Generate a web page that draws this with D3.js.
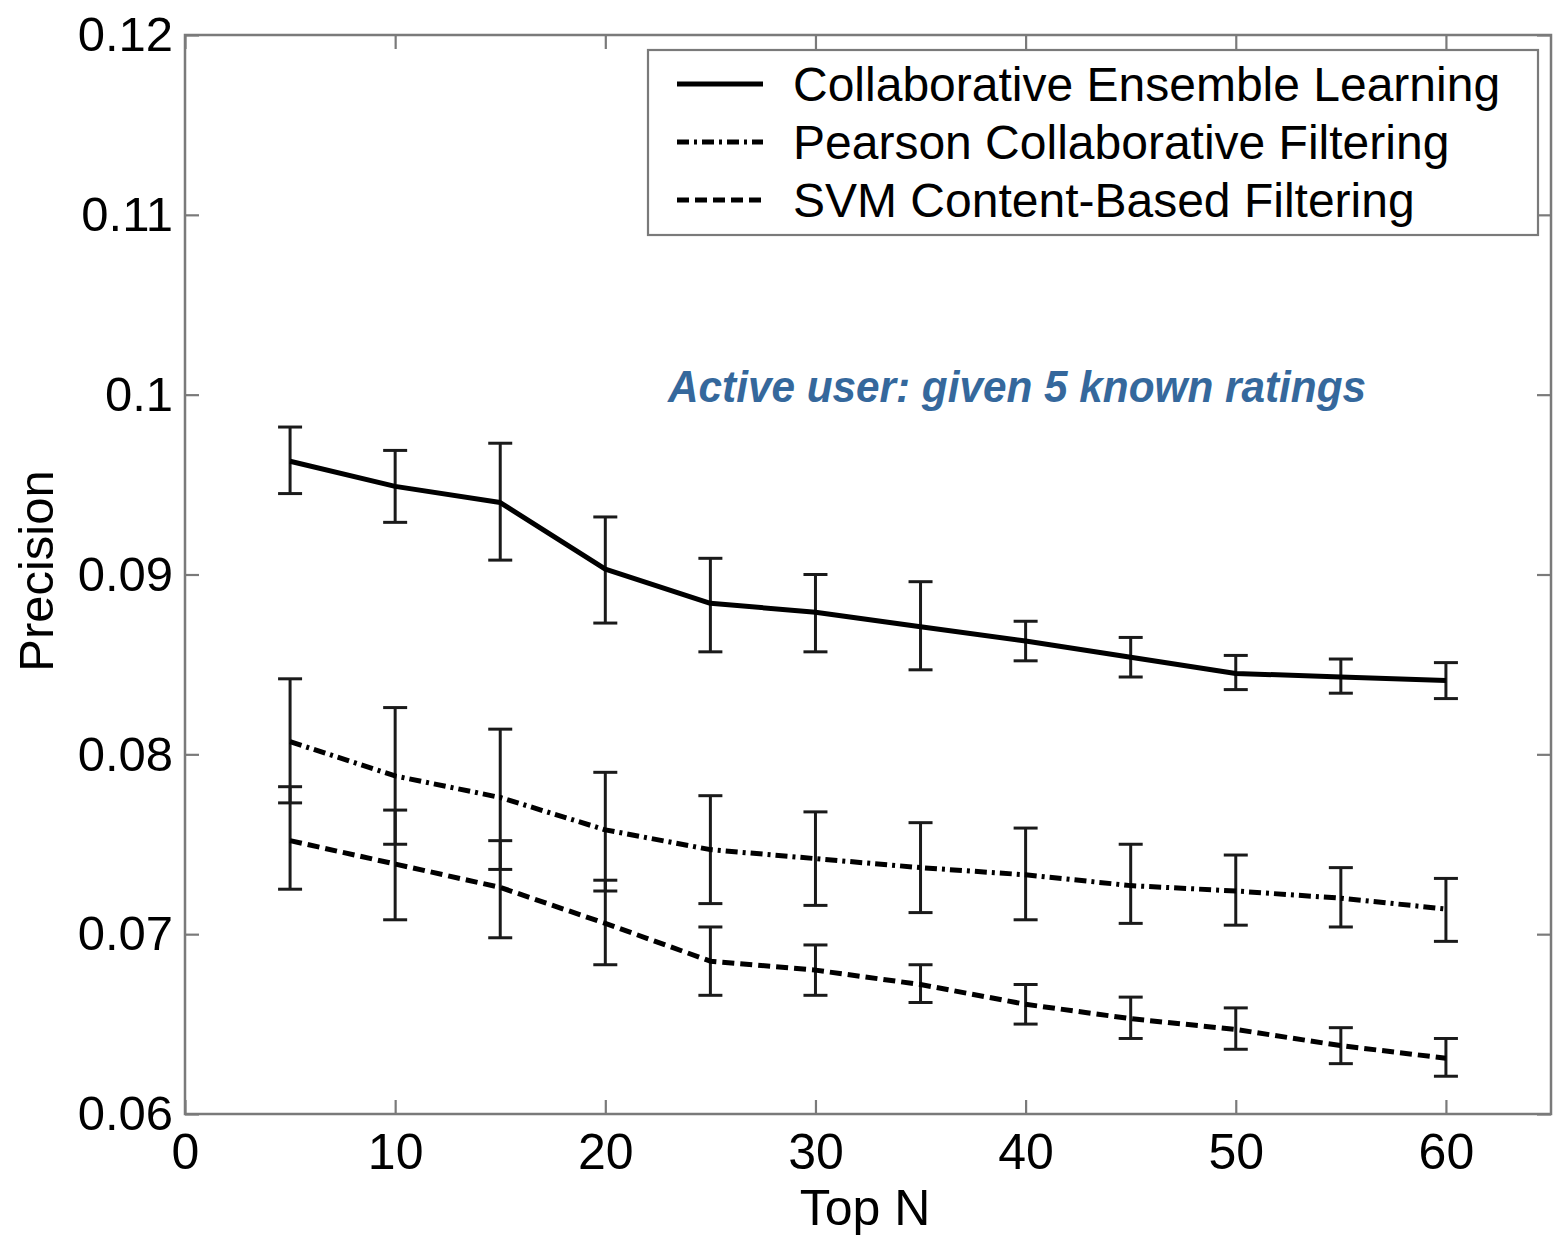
<!DOCTYPE html>
<html>
<head>
<meta charset="utf-8">
<script src="https://cdn.jsdelivr.net/npm/d3@7"></script>
<style>
  html, body { margin: 0; padding: 0; background: #fff; }
  svg { display: block; }
  text { font-family: "Liberation Sans", Arial, Helvetica, sans-serif; }
</style>
</head>
<body>
<svg id="chart" width="1553" height="1236"></svg>
<script>
// ---------- data ----------
const topN = [5, 10, 15, 20, 25, 30, 35, 40, 45, 50, 55, 60];

const ceMean  = [0.0963, 0.0949, 0.0940, 0.0903, 0.0884, 0.0879, 0.0871, 0.0863, 0.0854, 0.0845, 0.0843, 0.0841];
const ceUpper = [0.0982, 0.0969, 0.0973, 0.0932, 0.0909, 0.0900, 0.0896, 0.0874, 0.0865, 0.0855, 0.0853, 0.0851];
const ceLower = [0.0945, 0.0929, 0.0908, 0.0873, 0.0857, 0.0857, 0.0847, 0.0852, 0.0843, 0.0836, 0.0834, 0.0831];

const pcMean  = [0.0807, 0.0788, 0.0776, 0.0758, 0.0747, 0.0742, 0.0737, 0.0733, 0.0727, 0.0724, 0.0720, 0.0714];
const pcUpper = [0.0842, 0.0826, 0.0814, 0.0790, 0.0777, 0.0768, 0.0762, 0.0759, 0.0750, 0.0744, 0.0737, 0.0731];
const pcLower = [0.0773, 0.0750, 0.0736, 0.0724, 0.0717, 0.0716, 0.0712, 0.0708, 0.0706, 0.0705, 0.0704, 0.0696];

const svmMean  = [0.0752, 0.0739, 0.0726, 0.0706, 0.0685, 0.0680, 0.0672, 0.0661, 0.0653, 0.0647, 0.0638, 0.0631];
const svmUpper = [0.0782, 0.0769, 0.0752, 0.0730, 0.0704, 0.0694, 0.0683, 0.0672, 0.0665, 0.0659, 0.0648, 0.0642];
const svmLower = [0.0725, 0.0708, 0.0698, 0.0683, 0.0666, 0.0666, 0.0662, 0.0650, 0.0642, 0.0636, 0.0628, 0.0621];

const seriesNames = ["Collaborative Ensemble Learning", "Pearson Collaborative Filtering", "SVM Content-Based Filtering"];

const xTicks = [0, 10, 20, 30, 40, 50, 60];
const xTickLabels = ["0", "10", "20", "30", "40", "50", "60"];
const yTicks = [0.06, 0.07, 0.08, 0.09, 0.10, 0.11, 0.12];
const yTickLabels = ["0.06", "0.07", "0.08", "0.09", "0.1", "0.11", "0.12"];

const xTitle = "Top N";
const yTitle = "Precision";
const annotation = "Active user: given 5 known ratings";

(function () {
// ---------- layout ----------
const svg = d3.select("#chart");
svg.append("rect").attr("width", 1553).attr("height", 1236).attr("fill", "#fff");

const pL = 185, pR = 1551, pT = 35, pB = 1114;
const x = d3.scaleLinear().domain([0, 65]).range([pL, pR]);
const y = d3.scaleLinear().domain([0.06, 0.12]).range([pB, pT]);

const axisColor = "#7a7a7a";
const tickLen = 14;

function styleAxis(g, fontSize) {
  g.select(".domain").remove();
  g.selectAll(".tick line").attr("stroke", axisColor).attr("stroke-width", 2.2);
  g.selectAll(".tick text").attr("fill", "#000").attr("font-size", fontSize)
    .style("font-family", '"Liberation Sans", Arial, sans-serif');
}

// bottom axis
const gx = svg.append("g").attr("transform", `translate(0,${pB})`)
  .call(d3.axisBottom(x).tickValues(xTicks).tickSize(-tickLen).tickPadding(19)
    .tickFormat((d, i) => xTickLabels[i]));
styleAxis(gx, 50);

// top axis (ticks only)
const gxt = svg.append("g").attr("transform", `translate(0,${pT})`)
  .call(d3.axisTop(x).tickValues(xTicks).tickSize(-tickLen).tickFormat(""));
styleAxis(gxt, 0);

// left axis
const gy = svg.append("g").attr("transform", `translate(${pL},0)`)
  .call(d3.axisLeft(y).tickValues(yTicks).tickSize(-tickLen).tickPadding(12)
    .tickFormat((d, i) => yTickLabels[i]));
styleAxis(gy, 49);

// right axis (ticks only)
const gyr = svg.append("g").attr("transform", `translate(${pR},0)`)
  .call(d3.axisRight(y).tickValues(yTicks).tickSize(-tickLen).tickFormat(""));
styleAxis(gyr, 0);

// frame
svg.append("rect")
  .attr("x", pL).attr("y", pT)
  .attr("width", pR - pL).attr("height", pB - pT)
  .attr("fill", "none").attr("stroke", axisColor).attr("stroke-width", 2.5);

// axis titles
svg.append("text")
  .attr("x", 865).attr("y", 1225)
  .attr("text-anchor", "middle").attr("font-size", 50).attr("fill", "#000")
  .text(xTitle);

svg.append("text")
  .attr("transform", `translate(53,571) rotate(-90)`)
  .attr("text-anchor", "middle").attr("font-size", 49).attr("fill", "#000")
  .text(yTitle);

// ---------- series ----------
const series = [
  { name: seriesNames[0], mean: ceMean,  upper: ceUpper,  lower: ceLower,  dash: null },
  { name: seriesNames[1], mean: pcMean,  upper: pcUpper,  lower: pcLower,  dash: "12,5,3,5" },
  { name: seriesNames[2], mean: svmMean, upper: svmUpper, lower: svmLower, dash: "12,6" }
];

const line = d3.line().x(d => x(d.n)).y(d => y(d.v));
const capHalf = 12;

series.forEach(s => {
  const pts = topN.map((n, i) => ({ n, v: s.mean[i], hi: s.upper[i], lo: s.lower[i] }));

  const eb = svg.append("g").attr("stroke", "#1a1a1a").attr("stroke-width", 3).attr("fill", "none");
  eb.selectAll("line.v").data(pts).enter().append("line").attr("class", "v")
    .attr("x1", d => x(d.n)).attr("x2", d => x(d.n))
    .attr("y1", d => y(d.hi)).attr("y2", d => y(d.lo));
  eb.selectAll("line.t").data(pts).enter().append("line").attr("class", "t")
    .attr("x1", d => x(d.n) - capHalf).attr("x2", d => x(d.n) + capHalf)
    .attr("y1", d => y(d.hi)).attr("y2", d => y(d.hi));
  eb.selectAll("line.b").data(pts).enter().append("line").attr("class", "b")
    .attr("x1", d => x(d.n) - capHalf).attr("x2", d => x(d.n) + capHalf)
    .attr("y1", d => y(d.lo)).attr("y2", d => y(d.lo));

  svg.append("path").datum(pts)
    .attr("d", line)
    .attr("fill", "none").attr("stroke", "#000").attr("stroke-width", 5)
    .attr("stroke-linejoin", "round")
    .attr("stroke-dasharray", s.dash);
});

// ---------- annotation ----------
svg.append("text")
  .attr("x", 668).attr("y", 402)
  .attr("font-size", 45).attr("font-weight", "bold").attr("font-style", "italic")
  .attr("fill", "#35689c")
  .attr("textLength", 698).attr("lengthAdjust", "spacingAndGlyphs")
  .text(annotation);

// ---------- legend ----------
const lg = svg.append("g");
lg.append("rect")
  .attr("x", 648).attr("y", 50).attr("width", 890).attr("height", 185)
  .attr("fill", "#fff").attr("stroke", axisColor).attr("stroke-width", 2.2);

const legendRows = [84, 142, 200];
series.forEach((s, i) => {
  lg.append("line")
    .attr("x1", 677).attr("x2", 763)
    .attr("y1", legendRows[i]).attr("y2", legendRows[i])
    .attr("stroke", "#000").attr("stroke-width", 5)
    .attr("stroke-dasharray", s.dash);
  lg.append("text")
    .attr("x", 793).attr("y", legendRows[i] + 17)
    .attr("font-size", 48).attr("fill", "#000")
    .text(s.name);
});
})();
</script>
</body>
</html>
